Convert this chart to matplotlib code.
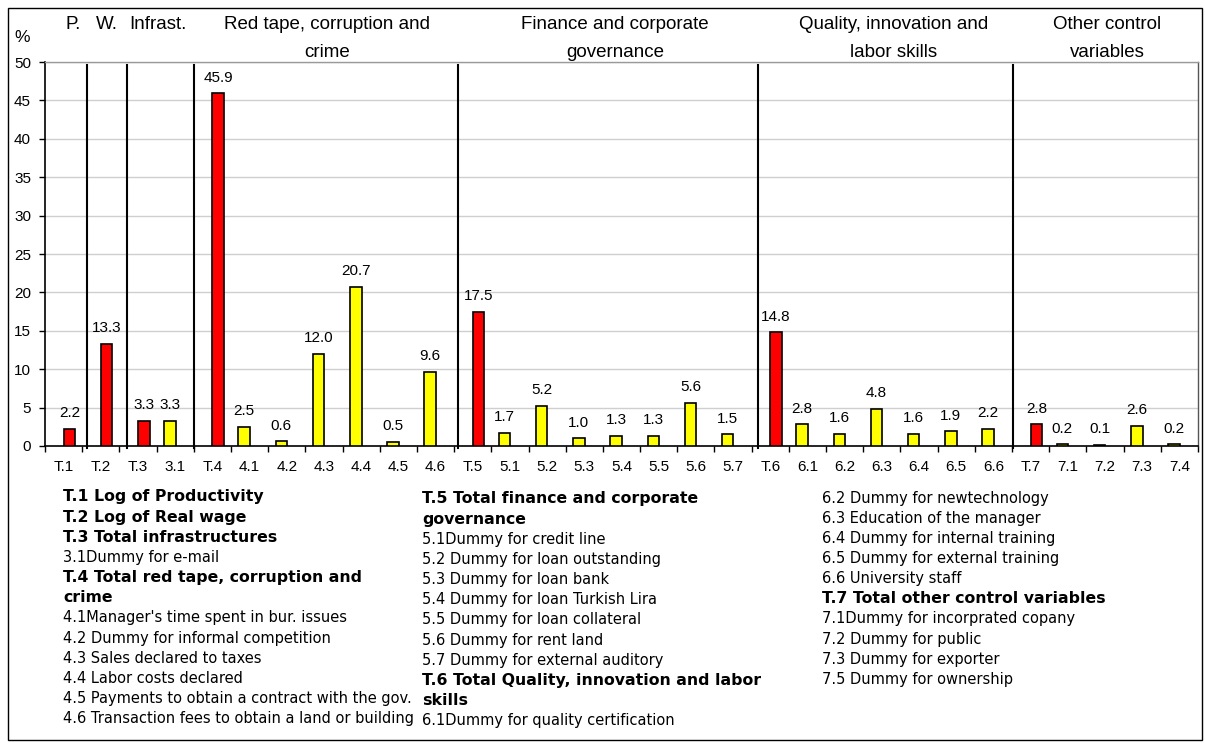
import matplotlib
matplotlib.use('Agg')
import matplotlib.pyplot as plt
from matplotlib.patches import Rectangle
import numpy as np

plt.rcParams['font.family'] = ['Liberation Sans', 'DejaVu Sans']

# ---------------- data ----------------
categories = ['T.1', 'T.2', 'T.3', '3.1', 'T.4', '4.1', '4.2', '4.3', '4.4', '4.5', '4.6',
              'T.5', '5.1', '5.2', '5.3', '5.4', '5.5', '5.6', '5.7',
              'T.6', '6.1', '6.2', '6.3', '6.4', '6.5', '6.6',
              'T.7', '7.1', '7.2', '7.3', '7.4']
values = [2.2, 13.3, 3.3, 3.3, 45.9, 2.5, 0.6, 12.0, 20.7, 0.5, 9.6,
          17.5, 1.7, 5.2, 1.0, 1.3, 1.3, 5.6, 1.5,
          14.8, 2.8, 1.6, 4.8, 1.6, 1.9, 2.2,
          2.8, 0.2, 0.1, 2.6, 0.2]
yticks = [0, 5, 10, 15, 20, 25, 30, 35, 40, 45, 50]

group_titles = [['P.'], ['W.'], ['Infrast.'],
                ['Red tape, corruption and', 'crime'],
                ['Finance and corporate', 'governance'],
                ['Quality, innovation and', 'labor skills'],
                ['Other control', 'variables']]

legend_col1 = [('T.1 Log of Productivity', True),
               ('T.2 Log of Real wage', True),
               ('T.3 Total infrastructures', True),
               ('3.1Dummy for e-mail', False),
               ('T.4 Total red tape, corruption and', True),
               ('crime', True),
               ("4.1Manager's time spent in bur. issues", False),
               ('4.2 Dummy for informal competition', False),
               ('4.3 Sales declared to taxes', False),
               ('4.4 Labor costs declared', False),
               ('4.5 Payments to obtain a contract with the gov.', False),
               ('4.6 Transaction fees to obtain a land or building', False)]
legend_col2 = [('T.5 Total finance and corporate', True),
               ('governance', True),
               ('5.1Dummy for credit line', False),
               ('5.2 Dummy for loan outstanding', False),
               ('5.3 Dummy for loan bank', False),
               ('5.4 Dummy for loan Turkish Lira', False),
               ('5.5 Dummy for loan collateral', False),
               ('5.6 Dummy for rent land', False),
               ('5.7 Dummy for external auditory', False),
               ('T.6 Total Quality, innovation and labor', True),
               ('skills', True),
               ('6.1Dummy for quality certification', False)]
legend_col3 = [('6.2 Dummy for newtechnology', False),
               ('6.3 Education of the manager', False),
               ('6.4 Dummy for internal training', False),
               ('6.5 Dummy for external training', False),
               ('6.6 University staff', False),
               ('T.7 Total other control variables', True),
               ('7.1Dummy for incorprated copany', False),
               ('7.2 Dummy for public', False),
               ('7.3 Dummy for exporter', False),
               ('7.5 Dummy for ownership', False)]

# ---------------- figure ----------------
W, H = 1205, 743
fig = plt.figure(figsize=(W / 100, H / 100), dpi=100)
fig.patch.set_facecolor('white')

ax_l, ax_r, ax_t, ax_b = 45, 1198, 62, 446
ax = fig.add_axes([ax_l / W, 1 - ax_b / H, (ax_r - ax_l) / W, (ax_b - ax_t) / H])

x = np.arange(len(categories))
is_total = np.array([c.startswith('T.') for c in categories])
offsets = np.where(is_total, 0.155, -0.145)
colors = np.where(is_total, '#FF0000', '#FFFF00')

ax.bar(x + offsets, values, width=0.31, color=colors, edgecolor='black',
       linewidth=1.2, zorder=3)

for xi, off, v in zip(x, offsets, values):
    ax.annotate(f'{v:.1f}', (xi + off, v), xytext=(0, 8.5), textcoords='offset points',
                ha='center', va='baseline', fontsize=11)

ax.set_xlim(-0.5, len(categories) - 0.5)
ax.set_ylim(0, 50)
ax.set_xticks(x)
ax.set_xticklabels(categories, fontsize=11)
ax.set_xticks(np.arange(-0.5, len(categories), 1), minor=True)
ax.tick_params(axis='x', which='major', length=0, pad=10)
ax.tick_params(axis='x', which='minor', length=4, width=1, color='black', direction='out')
ax.set_yticks(yticks)
ax.set_yticklabels([str(t) for t in yticks], fontsize=11)
ax.tick_params(axis='y', length=4, width=1, pad=6, direction='out')

ax.yaxis.grid(True, color='#cfcfcf', linewidth=1)
ax.set_axisbelow(True)
for s in ['left', 'bottom']:
    ax.spines[s].set_color('black')
    ax.spines[s].set_linewidth(1.2)
ax.spines['top'].set_color('#9a9a9a')
ax.spines['top'].set_linewidth(1)
ax.spines['right'].set_color('#555555')
ax.spines['right'].set_linewidth(1)

# group separators
for sx in [0.63, 1.705, 3.51, 10.6, 18.67, 25.53]:
    ax.plot([sx, sx], [-0.3, 49.6], color='black', linewidth=1.5, clip_on=False, zorder=4)

# group headers (pixel centres)
header_x = [73, 107, 158, 327, 615, 894, 1107]
for hx, lines in zip(header_x, group_titles):
    for i, line in enumerate(lines):
        fig.text(hx / W, 1 - (29 + 28 * i) / H, line, ha='center', va='baseline',
                 fontsize=13.5)

fig.text(22 / W, 1 - 42 / H, '%', ha='center', va='baseline', fontsize=12.5)

# legend text columns
for col, cx, cy in [(legend_col1, 63, 497), (legend_col2, 422, 499), (legend_col3, 822, 498)]:
    for i, (txt, bold) in enumerate(col):
        fig.text(cx / W, 1 - (cy + 20.15 * i) / H, txt, ha='left', va='center',
                 family='DejaVu Sans',
                 fontsize=11.3 if bold else 10.5,
                 fontweight='bold' if bold else 'normal')

# outer frame
fig.add_artist(Rectangle((8 / W, 1 - 740 / H), (1202 - 8) / W, (740 - 8) / H,
                         transform=fig.transFigure, fill=False, edgecolor='black',
                         linewidth=1))

fig.savefig('out.png', dpi=100)
